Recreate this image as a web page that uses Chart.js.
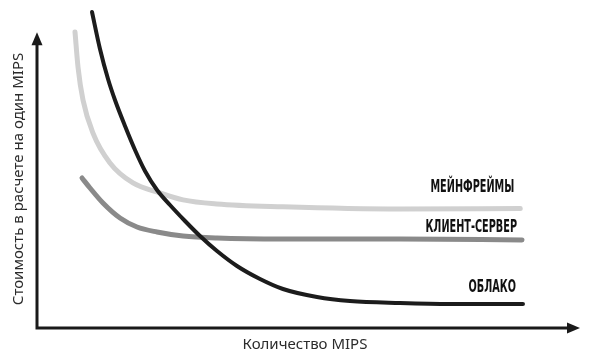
<!DOCTYPE html>
<html>
<head>
<meta charset="utf-8">
<script src="https://cdn.jsdelivr.net/npm/chart.js@4/dist/chart.umd.min.js"></script>
<style>
html,body{margin:0;padding:0;background:#fff;}
#wrap{width:591px;height:357px;position:relative;}
</style>
</head>
<body>
<div id="wrap"><canvas id="c" width="591" height="357"></canvas></div>
<script>
// Data (arbitrary units: x = MIPS, y = cost per MIPS)
const seriesNames = ["ОБЛАКО", "МЕЙНФРЕЙМЫ", "КЛИЕНТ-СЕРВЕР"];
const cloudX = [10.13, 11.60, 13.08, 14.36, 16.21, 18.05, 19.89, 22.10, 24.49, 27.26, 30.02, 33.15, 36.83, 41.07, 45.30, 51.57, 57.64, 66.85, 76.06, 89.5];
const cloudY = [99.37, 87.74, 78.30, 71.70, 63.52, 55.97, 49.37, 43.40, 38.68, 33.65, 28.93, 24.21, 19.50, 15.41, 12.26, 9.75, 8.49, 7.86, 7.55, 7.55];
const mainframeX = [7.0, 7.55, 8.47, 10.31, 13.44, 17.68, 22.65, 26.9, 33.1, 45.3, 66.9, 89.0];
const mainframeY = [93.1, 82.1, 71.7, 61.3, 51.9, 45.6, 42.5, 40.3, 39.0, 38.1, 37.4, 37.6];
const clientX = [8.29, 9.76, 12.15, 15.29, 18.42, 22.10, 26.89, 33.15, 45.30, 66.85, 89.32];
const clientY = [47.17, 44.03, 39.31, 34.59, 31.76, 30.19, 28.93, 28.30, 27.99, 27.99, 27.67];
const xTitle = "Количество MIPS";
const yTitle = "Стоимость в расчете на один MIPS";

function pts(xs, ys){ return xs.map((x,i)=>({x:x, y:ys[i]})); }

const labelStyle = [
  {dx:-7, dy:-18},
  {dx:-6, dy:-22},
  {dx:-5, dy:-14}
];

const axesPlugin = {
  id:'axesArrows',
  afterDatasetsDraw(chart){
    const ctx = chart.ctx;
    const xs = chart.scales.x, ys = chart.scales.y;
    const ox = xs.getPixelForValue(0), oy = ys.getPixelForValue(0);
    const xEnd = xs.getPixelForValue(100), yEnd = ys.getPixelForValue(93);
    ctx.save();
    ctx.strokeStyle = '#1a1a1a';
    ctx.fillStyle = '#1a1a1a';
    ctx.lineWidth = 3;
    ctx.lineCap = 'butt';
    ctx.beginPath();
    ctx.moveTo(ox, oy); ctx.lineTo(xEnd - 10, oy);
    ctx.moveTo(ox, oy + 1.5); ctx.lineTo(ox, yEnd + 10);
    ctx.stroke();
    // arrowheads
    ctx.beginPath();
    ctx.moveTo(xEnd, oy); ctx.lineTo(xEnd - 13, oy - 5.5); ctx.lineTo(xEnd - 13, oy + 5.5); ctx.closePath();
    ctx.fill();
    ctx.beginPath();
    ctx.moveTo(ox, yEnd); ctx.lineTo(ox - 5.5, yEnd + 13); ctx.lineTo(ox + 5.5, yEnd + 13); ctx.closePath();
    ctx.fill();

    // axis titles
    ctx.fillStyle = '#2b2b2b';
    ctx.font = '15px "Noto Sans", "Open Sans", sans-serif';
    ctx.textAlign = 'center';
    ctx.textBaseline = 'middle';
    ctx.fillText(xTitle, 305, 345);
    ctx.save();
    ctx.translate(19, 179);
    ctx.rotate(-Math.PI/2);
    ctx.fillText(yTitle, 0, 0);
    ctx.restore();

    // series labels
    ctx.fillStyle = '#111';
    ctx.font = 'bold 18px "Liberation Sans Narrow", "DejaVu Sans Condensed", sans-serif';
    ctx.textAlign = 'right';
    ctx.textBaseline = 'middle';
    chart.data.datasets.forEach((ds, i) => {
      const last = ds.data[ds.data.length - 1];
      const px = xs.getPixelForValue(last.x) + labelStyle[i].dx;
      const py = ys.getPixelForValue(last.y) + labelStyle[i].dy;
      ctx.save();
      ctx.translate(px, py);
      ctx.scale(0.6, 1);
      ctx.fillText(seriesNames[i], 0, 1);
      ctx.restore();
    });
    ctx.restore();
  }
};

new Chart(document.getElementById('c'), {
  type: 'scatter',
  data: {
    datasets: [
      {label: seriesNames[0], data: pts(cloudX, cloudY), showLine: true, borderColor: '#1c1c1c', borderWidth: 4, pointRadius: 0, cubicInterpolationMode: 'monotone', borderCapStyle: 'round', borderJoinStyle:'round', fill:false, order: 0},
      {label: seriesNames[1], data: pts(mainframeX, mainframeY), showLine: true, borderColor: '#d0d0d0', borderWidth: 5, pointRadius: 0, cubicInterpolationMode: 'monotone', borderCapStyle: 'round', borderJoinStyle:'round', fill:false, order: 2},
      {label: seriesNames[2], data: pts(clientX, clientY), showLine: true, borderColor: '#8a8a8a', borderWidth: 5, pointRadius: 0, cubicInterpolationMode: 'monotone', borderCapStyle: 'round', borderJoinStyle:'round', fill:false, order: 1}
    ]
  },
  options: {
    responsive: false,
    animation: false,
    clip: false,
    layout: {padding: {left: 37, right: 11, top: 10, bottom: 29}},
    plugins: {legend: {display: false}, tooltip: {enabled: false}},
    scales: {
      x: {type: 'linear', min: 0, max: 100, display: false},
      y: {type: 'linear', min: 0, max: 100, display: false}
    }
  },
  plugins: [axesPlugin]
});
</script>
</body>
</html>
